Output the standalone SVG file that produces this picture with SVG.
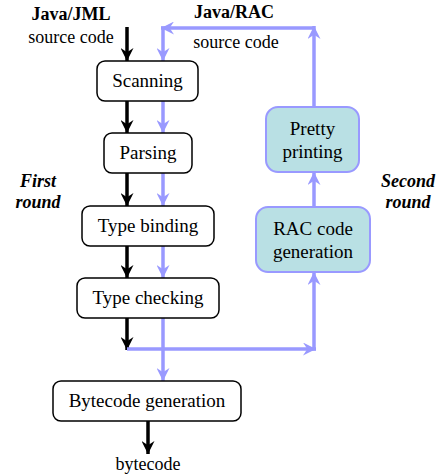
<svg xmlns="http://www.w3.org/2000/svg" width="439" height="476" viewBox="0 0 439 476">
<style>
.box{fill:#fff;stroke:#000;stroke-width:1.5}
.rac{fill:#b9e0e4;stroke:#9999ff;stroke-width:2}
.k{stroke:#000;stroke-width:3.5;fill:none;marker-end:url(#ak)}
.u{stroke:#9999ff;stroke-width:3.5;fill:none;marker-end:url(#au)}
</style>
<defs>
<marker id="ak" markerUnits="userSpaceOnUse" markerWidth="13" markerHeight="13" refX="12" refY="6" orient="auto" viewBox="0 0 12 12">
<path d="M0,0 L12,6 L0,12 L4,6 z" fill="#000"/>
</marker>
<marker id="au" markerUnits="userSpaceOnUse" markerWidth="13" markerHeight="13" refX="12" refY="6" orient="auto" viewBox="0 0 12 12">
<path d="M0,0 L12,6 L0,12 L4,6 z" fill="#9999ff"/>
</marker>
</defs>
<g id="connectors">
<line class="k" x1="127" y1="27" x2="127" y2="61"/>
<line class="k" x1="127" y1="101" x2="127" y2="133"/>
<line class="k" x1="127" y1="173" x2="127" y2="206"/>
<line class="k" x1="127" y1="246" x2="127" y2="278"/>
<line class="k" x1="127" y1="318" x2="127" y2="350"/>
<line class="k" x1="148" y1="421" x2="148" y2="454"/>
<line class="u" x1="314" y1="107" x2="314" y2="26"/>
<line class="u" x1="314" y1="28" x2="161" y2="28"/>
<line class="u" x1="163" y1="26.5" x2="163" y2="61"/>
<line class="u" x1="163" y1="101" x2="163" y2="133"/>
<line class="u" x1="163" y1="173" x2="163" y2="206"/>
<line class="u" x1="163" y1="246" x2="163" y2="278"/>
<line class="u" x1="163" y1="318" x2="163" y2="381"/>
<line class="u" x1="127" y1="349" x2="316" y2="349"/>
<line class="u" x1="314" y1="350.5" x2="314" y2="272"/>
<line class="u" x1="314" y1="207" x2="314" y2="172"/>
</g>
<g id="scanning"><rect class="box" x="97" y="61" width="101" height="40" rx="8"/><text font-family="Liberation Serif" font-size="19" text-anchor="middle" x="147.5" y="87">Scanning</text></g>
<g id="parsing"><rect class="box" x="104" y="133" width="88" height="40" rx="8"/><text font-family="Liberation Serif" font-size="19" text-anchor="middle" x="148" y="159">Parsing</text></g>
<g id="typebinding"><rect class="box" x="82" y="206" width="132" height="40" rx="8"/><text font-family="Liberation Serif" font-size="19" text-anchor="middle" x="148" y="232">Type binding</text></g>
<g id="typechecking"><rect class="box" x="77" y="278" width="142" height="40" rx="8"/><text font-family="Liberation Serif" font-size="19" text-anchor="middle" x="148" y="304">Type checking</text></g>
<g id="bytecodegen"><rect class="box" x="53" y="381" width="188" height="40" rx="8"/><text font-family="Liberation Serif" font-size="19" text-anchor="middle" x="147" y="407">Bytecode generation</text></g>
<g id="racgen"><rect class="rac" x="256" y="207" width="114" height="65" rx="12"/><text font-family="Liberation Serif" font-size="19" text-anchor="middle" x="313" y="235">RAC code</text><text font-family="Liberation Serif" font-size="19" text-anchor="middle" x="313" y="258">generation</text></g>
<g id="pretty"><rect class="rac" x="266" y="107" width="93" height="65" rx="12"/><text font-family="Liberation Serif" font-size="19" text-anchor="middle" x="312.5" y="135">Pretty</text><text font-family="Liberation Serif" font-size="19" text-anchor="middle" x="312.5" y="158">printing</text></g>
<g id="labels">
<text font-family="Liberation Serif" font-size="18" text-anchor="middle" font-weight="bold" x="71" y="20">Java/JML</text>
<text font-family="Liberation Serif" font-size="18" text-anchor="middle" x="71" y="43">source code</text>
<text font-family="Liberation Serif" font-size="18" text-anchor="middle" font-weight="bold" x="234" y="18">Java/RAC</text>
<text font-family="Liberation Serif" font-size="18" text-anchor="middle" x="236" y="48">source code</text>
<text font-family="Liberation Serif" font-size="18" text-anchor="middle" font-weight="bold" font-style="italic" x="38" y="187">First</text>
<text font-family="Liberation Serif" font-size="18" text-anchor="middle" font-weight="bold" font-style="italic" x="38" y="208">round</text>
<text font-family="Liberation Serif" font-size="18" text-anchor="middle" font-weight="bold" font-style="italic" x="408" y="187">Second</text>
<text font-family="Liberation Serif" font-size="18" text-anchor="middle" font-weight="bold" font-style="italic" x="408" y="208">round</text>
<text font-family="Liberation Serif" font-size="18" text-anchor="middle" x="148" y="470">bytecode</text>
</g>
</svg>
